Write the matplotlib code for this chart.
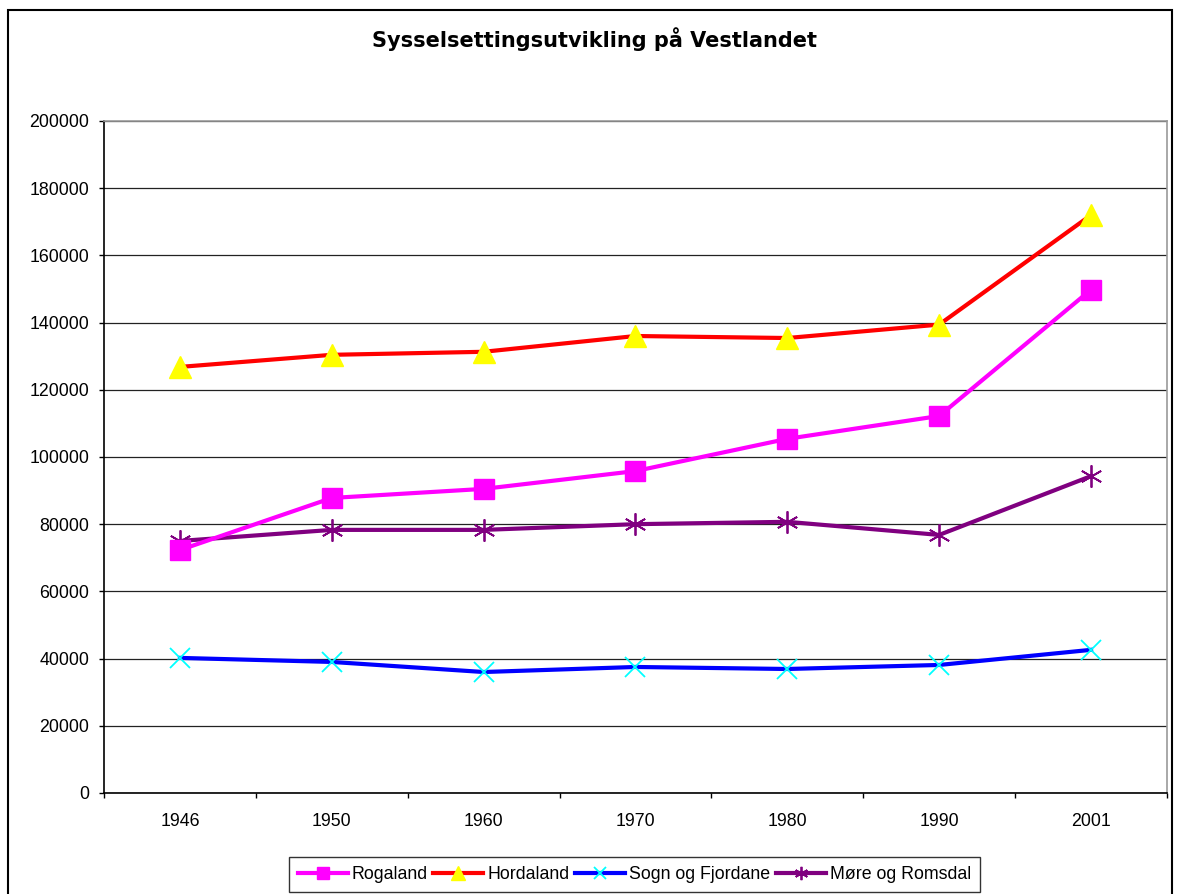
import matplotlib
matplotlib.use('Agg')
import matplotlib.pyplot as plt
from matplotlib.patches import Rectangle

plt.rcParams['font.family'] = ['Liberation Sans', 'DejaVu Sans']

# data
years = ['1946', '1950', '1960', '1970', '1980', '1990', '2001']
rogaland = [72300, 87800, 90500, 95800, 105400, 112200, 149800]
hordaland = [126800, 130400, 131300, 136000, 135400, 139400, 172000]
sogn_fjordane = [40200, 39000, 36000, 37500, 36900, 38100, 42600]
more_romsdal = [75000, 78300, 78300, 80000, 80700, 76800, 94300]

fig = plt.figure(figsize=(11.79, 8.94), dpi=100)
ax = fig.add_axes([0.0882, 0.1130, 0.9016, 0.7517])

x = range(len(years))
ax.plot(x, rogaland, color='#ff00ff', lw=3, marker='s', ms=14.5,
        mfc='#ff00ff', mec='#ff00ff', label='Rogaland', zorder=4)
ax.plot(x, hordaland, color='#ff0000', lw=3, marker='^', ms=16,
        mfc='#ffff00', mec='#ffff00', label='Hordaland', zorder=3)
ax.plot(x, sogn_fjordane, color='#0000ff', lw=3, marker='x', ms=15, mew=1.3,
        mec='#00ffff', label='Sogn og Fjordane', zorder=3)
ax.plot(x, more_romsdal, color='#800080', lw=3, marker=(6, 2, 0), ms=16, mew=1.3,
        mec='#800080', label='Møre og Romsdal', zorder=3)

ax.set_xlim(-0.5, len(years) - 0.5)
ax.set_ylim(0, 200000)
ax.set_yticks(range(0, 200001, 20000))
ax.yaxis.grid(True, color='#222222', lw=0.9)
ax.set_axisbelow(True)

ax.set_xticks(list(x))
ax.set_xticklabels(years)
ax.set_xticks([i + 0.5 for i in range(-1, len(years))], minor=True)
ax.tick_params(axis='x', which='major', length=0, pad=14.5, labelsize=12.8)
ax.tick_params(axis='x', which='minor', length=3.6, width=1, direction='out')
ax.tick_params(axis='y', length=3.6, width=1, direction='out', labelsize=12.8, pad=7)

for side in ['left', 'bottom']:
    ax.spines[side].set_color('black')
    ax.spines[side].set_linewidth(1.2)
for side in ['top', 'right']:
    ax.spines[side].set_color('#999999')
    ax.spines[side].set_linewidth(1.2)

fig.text(0.5045, 1 - 47 / 894, 'Sysselsettingsutvikling på Vestlandet', ha='center',
         va='baseline', fontsize=15, fontweight='bold', family=['DejaVu Sans'])

leg = fig.legend(loc='upper center', bbox_to_anchor=(0.538, 1 - 857 / 894), ncol=4,
                 fontsize=12.8, frameon=True, fancybox=False, handlelength=2.8,
                 handletextpad=0.22, columnspacing=0.33, borderpad=0.5,
                 markerscale=0.6, borderaxespad=0)
leg.get_frame().set_edgecolor('black')
leg.get_frame().set_linewidth(1)

# outer chart border
fig.patches.append(Rectangle((8 / 1179, -0.01), (1172 - 8) / 1179, 1 - 10 / 894 + 0.01,
                             transform=fig.transFigure, fill=False, edgecolor='black',
                             lw=1.5, zorder=0))

fig.savefig('out.png', dpi=100)
